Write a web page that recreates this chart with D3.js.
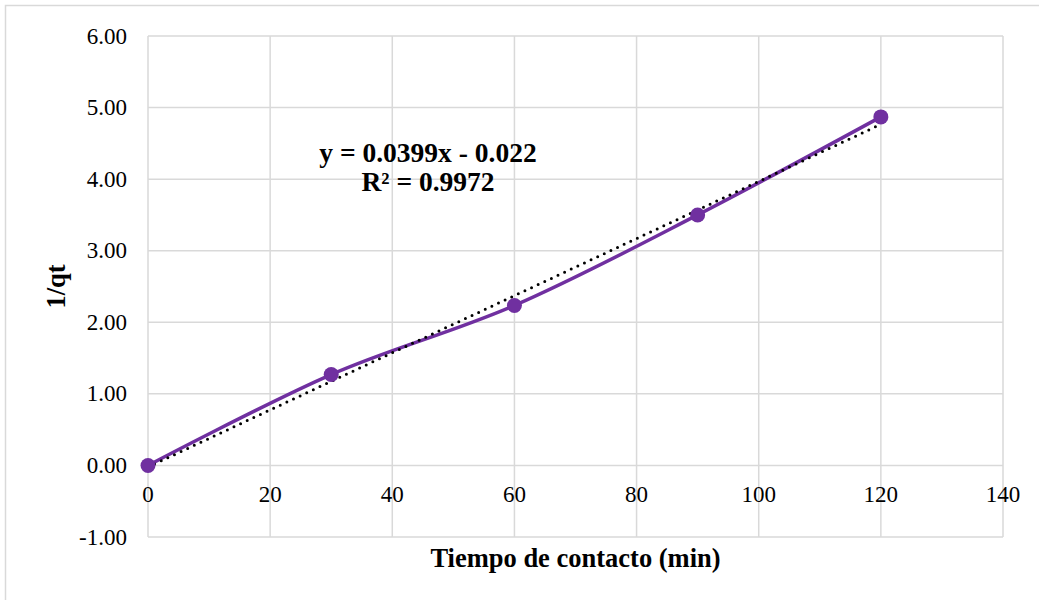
<!DOCTYPE html>
<html>
<head>
<meta charset="utf-8">
<script src="https://cdn.jsdelivr.net/npm/d3@7"></script>
<style>
  html, body { margin: 0; padding: 0; background: #fff; }
  svg { display: block; }
  text { font-family: "Liberation Serif", "Times New Roman", serif; fill: #000; }
</style>
</head>
<body>
<svg id="chart" width="1039" height="600"></svg>
<script>
// ---- data ----
const xValues = [0, 30, 60, 90, 120];
const yValues = [0, 1.27, 2.235, 3.50, 4.87];
const xTicks = [0, 20, 40, 60, 80, 100, 120, 140];
const yTicks = [-1, 0, 1, 2, 3, 4, 5, 6];
const trendSlope = 0.0399;
const trendIntercept = -0.022;
const equationLines = ["y = 0.0399x - 0.022", "R² = 0.9972"];
const xTitle = "Tiempo de contacto (min)";
const yTitle = "1/qt";

// ---- layout ----
const svg = d3.select("#chart");
const pLeft = 148, pRight = 1003, pTop = 36, pBottom = 537;
const x = d3.scaleLinear().domain([0, 140]).range([pLeft, pRight]);
const y = d3.scaleLinear().domain([-1, 6]).range([pBottom, pTop]);
const gridColor = "#d9d9d9";
const purple = "#7030A0";
const fmtY = d => d3.format(".2f")(d).replace("\u2212", "-");

// outer chart border
svg.append("rect").attr("x", 5.5).attr("y", 5.5).attr("width", 1100).attr("height", 700)
  .attr("fill", "none").attr("stroke", gridColor).attr("stroke-width", 1.5);

// gridlines
svg.append("g").selectAll("line").data(yTicks).join("line")
  .attr("x1", pLeft).attr("x2", pRight)
  .attr("y1", d => y(d)).attr("y2", d => y(d))
  .attr("stroke", gridColor).attr("stroke-width", 1.5);
svg.append("g").selectAll("line").data(xTicks).join("line")
  .attr("y1", pTop).attr("y2", pBottom)
  .attr("x1", d => x(d)).attr("x2", d => x(d))
  .attr("stroke", gridColor).attr("stroke-width", 1.5);

// y tick labels
svg.append("g").selectAll("text").data(yTicks).join("text")
  .attr("x", 127).attr("y", d => y(d) + 7.5)
  .attr("text-anchor", "end").style("font-size", "23px")
  .text(fmtY);

// x tick labels (placed below the zero line)
svg.append("g").selectAll("text").data(xTicks).join("text")
  .attr("x", d => x(d)).attr("y", y(0) + 36.5)
  .attr("text-anchor", "middle").style("font-size", "23px")
  .text(d => d);

// axis titles
svg.append("text").attr("x", (pLeft + pRight) / 2).attr("y", 567)
  .attr("text-anchor", "middle").style("font-size", "26.5px").style("font-weight", "bold")
  .text(xTitle);
svg.append("text").attr("transform", `translate(65,${(pTop + pBottom) / 2}) rotate(-90)`)
  .attr("text-anchor", "middle").style("font-size", "26.5px").style("font-weight", "bold")
  .text(yTitle);

// series
const pts = xValues.map((d, i) => [d, yValues[i]]);
const line = d3.line().x(d => x(d[0])).y(d => y(d[1])).curve(d3.curveCardinal.tension(0));
svg.append("path").datum(pts).attr("d", line)
  .attr("fill", "none").attr("stroke", purple).attr("stroke-width", 3.5);

// trendline
const tx = [xValues[0], xValues[xValues.length - 1]];
svg.append("line")
  .attr("x1", x(tx[0])).attr("y1", y(trendSlope * tx[0] + trendIntercept))
  .attr("x2", x(tx[1])).attr("y2", y(trendSlope * tx[1] + trendIntercept))
  .attr("stroke", "#000").attr("stroke-width", 3)
  .attr("stroke-dasharray", "0,7.3").attr("stroke-linecap", "round");

// markers
svg.append("g").selectAll("circle").data(pts).join("circle")
  .attr("cx", d => x(d[0])).attr("cy", d => y(d[1])).attr("r", 7.5)
  .attr("fill", purple);

// equation label
svg.append("g").selectAll("text").data(equationLines).join("text")
  .attr("x", 428).attr("y", (d, i) => 161.5 + i * 29)
  .attr("text-anchor", "middle").style("font-size", "27.5px").style("font-weight", "bold")
  .text(d => d);
</script>
</body>
</html>
